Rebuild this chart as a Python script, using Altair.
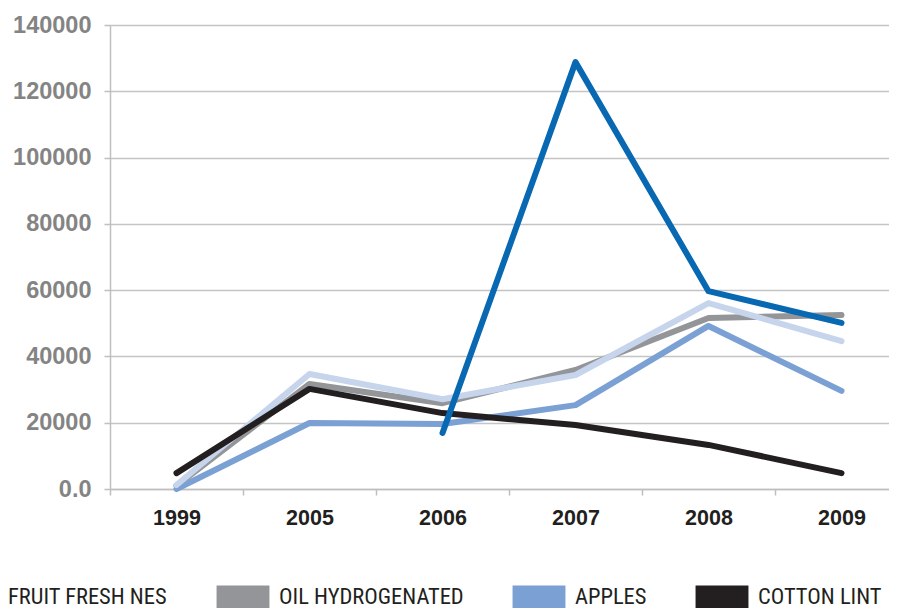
import altair as alt
import pandas as pd

# ---- data ----
years = ["1999", "2005", "2006", "2007", "2008", "2009"]

series_names = ["SERIES 1", "FRUIT FRESH NES", "OIL HYDROGENATED", "APPLES", "COTTON LINT"]
series_colors = ["#0868b2", "#c6d4ec", "#939598", "#7ba0d4", "#231f20"]

dark_blue = [None, None, 16900, 128800, 59700, 50100]
fruit_fresh_nes = [1200, 34700, 27100, 34400, 56100, 44600]
oil_hydrogenated = [1000, 31700, 25900, 35900, 51600, 52500]
apples = [0, 19900, 19600, 25300, 49200, 29600]
cotton_lint = [4800, 30200, 22900, 19300, 13300, 4800]

legend_values = ["FRUIT FRESH NES", "OIL HYDROGENATED", "APPLES", "COTTON LINT"]
y_ticks = [0, 20000, 40000, 60000, 80000, 100000, 120000, 140000]

values_by_series = {
    "SERIES 1": dark_blue,
    "FRUIT FRESH NES": fruit_fresh_nes,
    "OIL HYDROGENATED": oil_hydrogenated,
    "APPLES": apples,
    "COTTON LINT": cotton_lint,
}

rows = []
for name, vals in values_by_series.items():
    for yr, v in zip(years, vals):
        if v is not None:
            rows.append({"year": yr, "series": name, "value": v})
df = pd.DataFrame(rows)

# drawing order, bottom to top
draw_order = ["OIL HYDROGENATED", "APPLES", "FRUIT FRESH NES", "COTTON LINT", "SERIES 1"]

label_font = "Liberation Sans"
legend_font = "Liberation Sans Narrow, Roboto Condensed, DejaVu Sans Condensed, Liberation Sans"

swatch = "M-2.3,0 H2.3"

color_scale = alt.Scale(domain=series_names, range=series_colors)

x_enc = alt.X(
    "year:N",
    sort=years,
    scale=alt.Scale(type="band", paddingInner=0, paddingOuter=0, range=[0, 798]),
    axis=alt.Axis(
        title=None, labelAngle=0, tickBand="extent", tickSize=6,
        tickColor="#bfbfbf", domainColor="#bfbfbf", domainWidth=1.5, tickWidth=1.5,
        labelFont=label_font, labelFontWeight="bold", labelFontSize=21.5,
        labelColor="#231f20", labelPadding=12, grid=False,
    ),
)
y_enc = alt.Y(
    "value:Q",
    scale=alt.Scale(domain=[0, 140000], nice=False, zero=True),
    axis=alt.Axis(
        title=None, values=y_ticks, format="d",
        labelExpr="datum.value == 0 ? '0.0' : datum.label",
        tickSize=6, tickColor="#bfbfbf", tickWidth=1.5,
        domainColor="#bfbfbf", domainWidth=1.5,
        gridColor="#c4c4c4", gridWidth=1.5,
        labelFont=label_font, labelFontWeight="bold", labelFontSize=23.5,
        labelColor="#848484", labelPadding=13,
    ),
)

legend = alt.Legend(
    orient="none", legendX=-161, legendY=549, direction="horizontal",
    values=legend_values, title=None,
    symbolType=swatch, symbolSize=529, symbolStrokeWidth=23,
    labelFont=legend_font, labelFontSize=22.5, labelColor="#231f20",
    labelOffset=13, labelLimit=400, columnPadding=2, padding=0,
)

layers = []
for name in draw_order:
    layer = (
        alt.Chart(df)
        .transform_filter(alt.datum.series == name)
        .mark_line(strokeCap="round", strokeJoin="round")
        .encode(
            x=x_enc,
            y=y_enc,
            color=alt.Color("series:N", scale=color_scale, legend=legend),
            strokeWidth=alt.value(6),
        )
    )
    layers.append(layer)

chart = (
    alt.layer(*layers)
    .properties(
        width=779,
        height=464,
        autosize=alt.AutoSizeParams(type="none"),
        padding={"left": 102, "top": 17, "right": 0, "bottom": 119},
        background="white",
    )
    .configure_view(stroke=None)
)

chart.save("out.html", embed_options={"renderer": "svg", "actions": False})
